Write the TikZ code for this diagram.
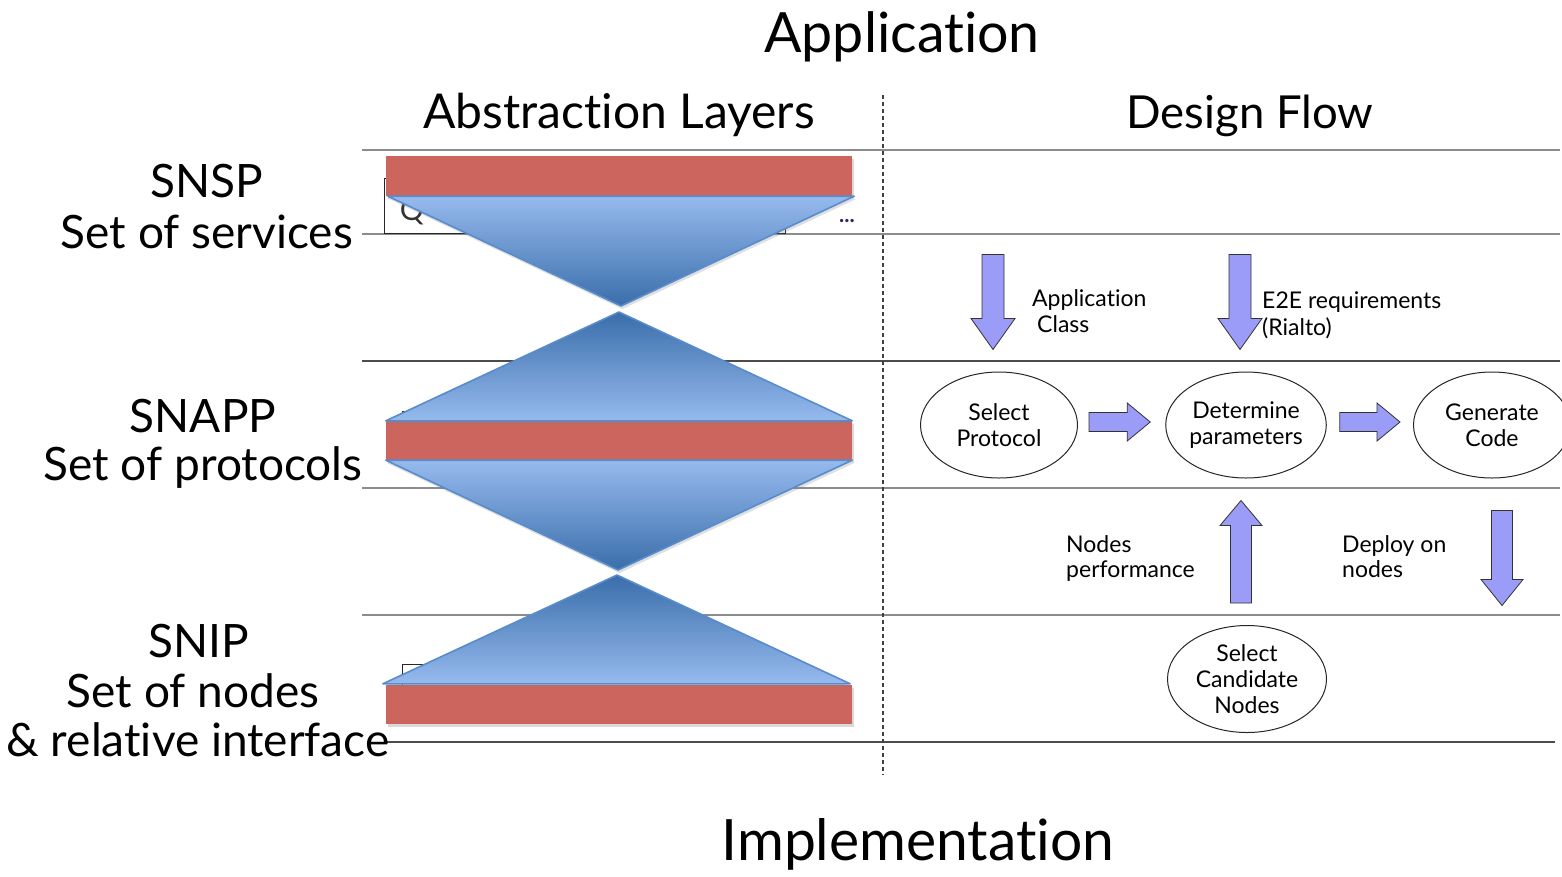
\documentclass[tikz,border=0pt]{standalone}
\usepackage{fontspec}
\setmainfont{Lato}[Ligatures={NoCommon,NoRare}]
\usetikzlibrary{shapes.geometric,calc,shadows}

\definecolor{barred}{RGB}{205,101,95}
\definecolor{trilight}{RGB}{150,186,238}
\definecolor{tridark}{RGB}{58,110,170}
\definecolor{triedge}{RGB}{88,140,204}
\definecolor{flowfill}{RGB}{155,155,248}
\definecolor{rulegray}{RGB}{140,140,140}
\definecolor{dotnavy}{RGB}{40,40,110}

\newcommand\titlefont{\fontsize{55.5}{60}\selectfont}
\newcommand\bottomfont{\fontsize{57}{62}\selectfont}
\newcommand\headfont{\fontsize{48}{54}\selectfont}
\newcommand\flowheadfont{\fontsize{45.5}{52}\selectfont}
\newcommand\layerfont{\fontsize{46}{52}\selectfont}
\newcommand\flowfont{\fontsize{23}{26}\selectfont}

% block arrow from #1 to #2: shaft half-width #3, head half-width #4, head length #5
\newcommand\fatarrow[5]{%
  \coordinate (fa-h) at ($(#2)!#5pt!(#1)$);
  \draw[fatarrow] ($(#1)!#3pt!90:(#2)$) -- ($(fa-h)!#3pt!-90:(#1)$)
    -- ($(fa-h)!#4pt!-90:(#1)$) -- (#2) -- ($(fa-h)!#4pt!90:(#1)$)
    -- ($(fa-h)!#3pt!90:(#1)$) -- ($(#1)!#3pt!-90:(#2)$) -- cycle;}

\tikzset{
  rule/.style={draw=rulegray, line width=1.8pt},
  darkrule/.style={draw=black!70, line width=1.4pt},
  bar/.style={rectangle, fill=barred, draw=none, inner sep=0pt, minimum width=466,
    drop shadow={shadow xshift=1.5pt, shadow yshift=-3pt, opacity=.3}},
  trishade/.style={drop shadow={shadow xshift=1.5pt, shadow yshift=-3pt, opacity=.25}},
  tri/.style={draw=triedge, line width=1.6pt, line join=round},
  ghost/.style={draw=black!85, line width=1pt},
  stage/.style={ellipse, draw=black!85, line width=1pt, minimum width=157,
    minimum height=106, inner sep=0pt, align=center, font=\flowfont},
  fatarrow/.style={fill=flowfill, draw=black!80, line width=0.8pt, line join=miter},
  flowlabel/.style={anchor=base west, font=\flowfont, inner sep=0pt},
  layerlabel/.style={anchor=base, font=\layerfont, inner sep=0pt},
}

\begin{document}
\begin{tikzpicture}[x=1pt, y=-1pt]
\useasboundingbox (0,0) rectangle (1562,876);

% headings
\node[anchor=base, font=\titlefont, inner sep=0pt] (app) at (902,52) {Application};
\node[anchor=base, font=\headfont, inner sep=0pt] (absl) at (619,128) {Abstraction Layers};
\node[anchor=base, font=\flowheadfont, inner sep=0pt] (dflow) at (1250,128) {Design Flow};
\node[anchor=base, font=\bottomfont, inner sep=0pt] (impl) at (918,860) {Implementation};

% row rules and column separator
\draw[rule] (362,150) -- (1560,150);
\draw[rule] (362,234) -- (1560,234);
\draw[darkrule] (362,361) -- (1560,361);
\draw[rule] (362,488) -- (1560,488);
\draw[rule] (362,615) -- (1560,615);
\draw[darkrule] (385,742) -- (1555,742);
\draw[black!75, line width=1.2pt, dash pattern=on 4pt off 3pt] (883,95) -- (883,775);

% layer names
\node[layerlabel] (snsp) at (207,197) {SNSP};
\node[layerlabel] (snspd) at (207,248) {Set of services};
\node[layerlabel] (snapp) at (203,432) {SNAPP};
\node[layerlabel] (snappd) at (203,480) {Set of protocols};
\node[layerlabel] (snip) at (199,657) {SNIP};
\node[layerlabel] (snipd) at (193,707) {Set of nodes};
\node[layerlabel] (snipe) at (198,756) {\& relative interface};

% frames lying underneath the layer bars
\draw[ghost] (384,178) rectangle (785,233);
\node[font=\fontsize{30}{30}\selectfont, text=black!80, inner sep=0pt] (qmark) at (412,212) {Q};
\node[anchor=base, font=\fontsize{22}{22}\bfseries, text=dotnavy, inner sep=0pt] (dots) at (847,222) {...};
\draw[ghost] (402,455) -- (402,411) -- (780,411);
\draw[ghost] (402,720) -- (402,664) -- (780,664);

% layer bars
\node[bar, minimum height=40] (bartop) at (619,176) {};
\node[bar, minimum height=39] (barmid) at (619,440.5) {};
\node[bar, minimum height=39] (barbot) at (619,704.5) {};

\coordinate (apex1) at (621,306);
\coordinate (apex2) at (619,312);
\coordinate (apex3) at (618,570);
\coordinate (apex4) at (617,575);

% funnels between the layers
\path[trishade, top color=trilight, bottom color=tridark]
  ($(bartop.south west)+(2,0)$) -- ($(bartop.south east)+(2,0)$) -- (apex1) -- cycle;
\draw[tri] ($(bartop.south west)+(2,0)$) -- ($(bartop.south east)+(2,0)$) -- (apex1) -- cycle;
\path[trishade, top color=tridark, bottom color=trilight]
  (apex2) -- (barmid.north east) -- (barmid.north west) -- cycle;
\draw[tri] (apex2) -- (barmid.north east) -- (barmid.north west) -- cycle;
\path[trishade, top color=trilight, bottom color=tridark]
  (barmid.south west) -- (barmid.south east) -- (apex3) -- cycle;
\draw[tri] (barmid.south west) -- (barmid.south east) -- (apex3) -- cycle;
\path[trishade, top color=tridark, bottom color=trilight]
  (apex4) -- ($(barbot.north east)+(-2,-1)$) -- ($(barbot.north west)+(-3,-1)$) -- cycle;
\draw[tri] (apex4) -- ($(barbot.north east)+(-2,-1)$) -- ($(barbot.north west)+(-3,-1)$) -- cycle;

% design flow stages
\node[stage] (sp) at (999,425) {Select\\Protocol};
\node[stage] (dp) at (1246,425) {Determine\\parameters};
\node[stage] (gc) at (1492,425) {Generate\\Code};
\node[stage, minimum width=159, minimum height=107] (scn) at (1247,679) {Select\\Candidate\\Nodes};

% flow labels
\node[flowlabel] (lapp) at (1032,306) {Application};
\node[flowlabel] (lcls) at (1037,332) {Class};
\node[flowlabel] (le2e) at (1262,308) {E2E requirements};
\node[flowlabel] (lrial) at (1262,335) {(Rialto)};
\node[flowlabel] (lnod) at (1066,552) {Nodes};
\node[flowlabel] (lperf) at (1066,577) {performance};
\node[flowlabel] (ldep) at (1342,552) {Deploy on};
\node[flowlabel] (lnds) at (1342,577) {nodes};

% flow arrows
\coordinate (inA0) at ($(sp.north)+(-6,-117)$);
\coordinate (inA1) at ($(sp.north)+(-6,-22)$);
\coordinate (inB0) at ($(dp.north)+(-6,-117)$);
\coordinate (inB1) at ($(dp.north)+(-6,-22)$);
\coordinate (r1a) at ($(sp.east)+(11,-3)$);
\coordinate (r1b) at ($(dp.west)+(-15,-3)$);
\coordinate (r2a) at ($(dp.east)+(13,-3)$);
\coordinate (r2b) at ($(gc.west)+(-13,-3)$);
\coordinate (up0) at ($(scn.north)+(-6,-22)$);
\coordinate (up1) at ($(dp.south)+(-5,22)$);
\coordinate (dn0) at ($(gc.south)+(10,32)$);
\coordinate (dn1) at ($(gc.south)+(10,127)$);

\fatarrow{inA0}{inA1}{11}{22}{31}
\fatarrow{inB0}{inB1}{11}{22}{31}
\fatarrow{r1a}{r1b}{9.5}{19}{23}
\fatarrow{r2a}{r2b}{9.5}{19}{23}
\fatarrow{up0}{up1}{10.5}{21}{25}
\fatarrow{dn0}{dn1}{10.5}{21}{26}

\end{tikzpicture}
\end{document}
